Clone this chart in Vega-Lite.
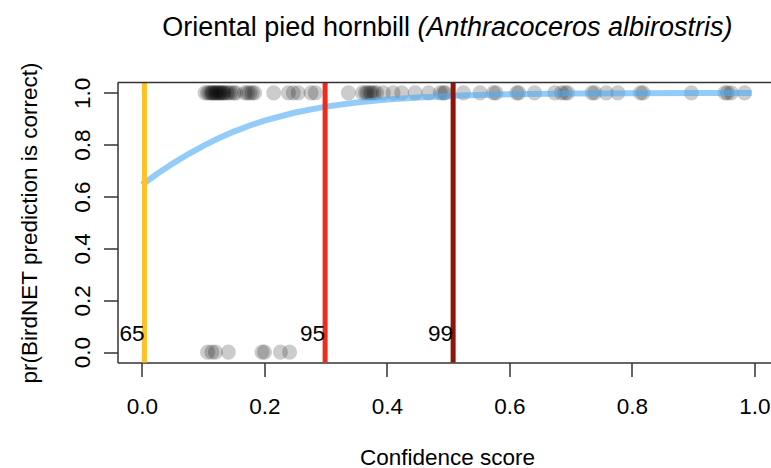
{
  "$schema": "https://vega.github.io/schema/vega-lite/v6.json",
  "width": 653.5,
  "height": 280,
  "autosize": {"type": "none"},
  "padding": {"left": 117.5, "top": 82.5, "right": 0, "bottom": 105.5},
  "background": "white",
  "config": {"view": {"stroke": null}, "font": "Liberation Sans"},
  "datasets": {
    "pts": [
      {"score": 0.103, "correct": 1}, {"score": 0.107, "correct": 1}, {"score": 0.110, "correct": 1}, {"score": 0.113, "correct": 1},
      {"score": 0.116, "correct": 1}, {"score": 0.119, "correct": 1}, {"score": 0.122, "correct": 1}, {"score": 0.125, "correct": 1},
      {"score": 0.128, "correct": 1}, {"score": 0.131, "correct": 1}, {"score": 0.134, "correct": 1}, {"score": 0.138, "correct": 1},
      {"score": 0.141, "correct": 1}, {"score": 0.145, "correct": 1}, {"score": 0.150, "correct": 1}, {"score": 0.153, "correct": 1},
      {"score": 0.115, "correct": 1}, {"score": 0.121, "correct": 1}, {"score": 0.127, "correct": 1}, {"score": 0.133, "correct": 1},
      {"score": 0.168, "correct": 1}, {"score": 0.172, "correct": 1}, {"score": 0.176, "correct": 1}, {"score": 0.180, "correct": 1},
      {"score": 0.184, "correct": 1}, {"score": 0.215, "correct": 1}, {"score": 0.239, "correct": 1}, {"score": 0.247, "correct": 1},
      {"score": 0.255, "correct": 1}, {"score": 0.276, "correct": 1}, {"score": 0.283, "correct": 1}, {"score": 0.337, "correct": 1},
      {"score": 0.360, "correct": 1}, {"score": 0.365, "correct": 1}, {"score": 0.368, "correct": 1}, {"score": 0.372, "correct": 1},
      {"score": 0.375, "correct": 1}, {"score": 0.379, "correct": 1}, {"score": 0.383, "correct": 1}, {"score": 0.394, "correct": 1},
      {"score": 0.410, "correct": 1}, {"score": 0.424, "correct": 1}, {"score": 0.446, "correct": 1}, {"score": 0.468, "correct": 1},
      {"score": 0.487, "correct": 1}, {"score": 0.492, "correct": 1}, {"score": 0.495, "correct": 1}, {"score": 0.525, "correct": 1},
      {"score": 0.552, "correct": 1}, {"score": 0.574, "correct": 1}, {"score": 0.578, "correct": 1}, {"score": 0.612, "correct": 1},
      {"score": 0.615, "correct": 1}, {"score": 0.641, "correct": 1}, {"score": 0.674, "correct": 1}, {"score": 0.685, "correct": 1},
      {"score": 0.691, "correct": 1}, {"score": 0.695, "correct": 1}, {"score": 0.735, "correct": 1}, {"score": 0.739, "correct": 1},
      {"score": 0.758, "correct": 1}, {"score": 0.777, "correct": 1}, {"score": 0.814, "correct": 1}, {"score": 0.818, "correct": 1},
      {"score": 0.897, "correct": 1}, {"score": 0.952, "correct": 1}, {"score": 0.956, "correct": 1}, {"score": 0.962, "correct": 1},
      {"score": 0.984, "correct": 1},
      {"score": 0.107, "correct": 0}, {"score": 0.114, "correct": 0}, {"score": 0.120, "correct": 0}, {"score": 0.141, "correct": 0},
      {"score": 0.196, "correct": 0}, {"score": 0.200, "correct": 0}, {"score": 0.226, "correct": 0}, {"score": 0.241, "correct": 0}
    ],
    "fit": [
      {"score": 0.0, "p": 0.6457}, {"score": 0.025, "p": 0.6879}, {"score": 0.05, "p": 0.7271}, {"score": 0.075, "p": 0.7631},
      {"score": 0.1, "p": 0.7958}, {"score": 0.125, "p": 0.8249}, {"score": 0.15, "p": 0.8507}, {"score": 0.175, "p": 0.8733},
      {"score": 0.2, "p": 0.8929}, {"score": 0.25, "p": 0.9241}, {"score": 0.3, "p": 0.9469}, {"score": 0.35, "p": 0.9630},
      {"score": 0.4, "p": 0.9744}, {"score": 0.45, "p": 0.9823}, {"score": 0.5, "p": 0.9879}, {"score": 0.55, "p": 0.9917},
      {"score": 0.6, "p": 0.9943}, {"score": 0.7, "p": 0.9973}, {"score": 0.8, "p": 0.9988}, {"score": 0.9, "p": 0.9994},
      {"score": 0.995, "p": 0.9997}
    ],
    "thr": [
      {"score": 0.004, "label": "65"},
      {"score": 0.299, "label": "95"},
      {"score": 0.508, "label": "99"}
    ]
  },
  "layer": [
    {
      "data": {"name": "pts"},
      "mark": {"type": "circle", "size": 227, "color": "#000000", "opacity": 0.2, "strokeWidth": 0},
      "encoding": {
        "x": {
          "field": "score", "type": "quantitative",
          "scale": {"domain": [-0.04, 1.027], "nice": false, "zero": false},
          "axis": {
            "title": "Confidence score", "values": [0, 0.2, 0.4, 0.6, 0.8, 1.0], "format": ".1f",
            "grid": false, "tickSize": 14, "tickWidth": 1.5, "tickColor": "#333333",
            "domainColor": "#333333", "domainWidth": 1.5,
            "labelFontSize": 22.5, "labelColor": "#000000", "labelPadding": 37, "labelBaseline": "alphabetic",
            "labelFlush": false, "labelOverlap": false,
            "titleFontSize": 22.5, "titleFontWeight": "normal", "titleColor": "#000000",
            "titleY": 101.5, "titleX": 329.5, "titleBaseline": "alphabetic"
          }
        },
        "y": {
          "field": "correct", "type": "quantitative",
          "scale": {"domain": [-0.04, 1.04], "nice": false, "zero": false},
          "axis": {
            "title": "pr(BirdNET prediction is correct)", "values": [0, 0.2, 0.4, 0.6, 0.8, 1.0], "format": ".1f",
            "grid": false, "tickSize": 14, "tickWidth": 1.5, "tickColor": "#333333",
            "domainColor": "#333333", "domainWidth": 1.5,
            "labelFontSize": 22.5, "labelColor": "#000000", "labelPadding": 14, "labelAngle": -90,
            "labelAlign": "center", "labelBaseline": "alphabetic", "labelFlush": false, "labelOverlap": false,
            "titleFontSize": 22.5, "titleFontWeight": "normal", "titleColor": "#000000",
            "titleAngle": -90, "titleX": -81, "titleY": 140, "titleAlign": "center", "titleBaseline": "alphabetic"
          }
        }
      }
    },
    {
      "data": {"name": "fit"},
      "mark": {"type": "line", "color": "#4DAAF5", "opacity": 0.6, "strokeWidth": 6, "strokeCap": "butt"},
      "encoding": {
        "x": {"field": "score", "type": "quantitative"},
        "y": {"field": "p", "type": "quantitative"}
      }
    },
    {
      "data": {"name": "thr"},
      "mark": {"type": "rule", "strokeWidth": 5},
      "encoding": {
        "x": {"field": "score", "type": "quantitative"},
        "color": {
          "field": "label", "type": "nominal", "legend": null,
          "scale": {"domain": ["65", "95", "99"], "range": ["#FFC126", "#EE2C1C", "#8E1507"]}
        }
      }
    },
    {
      "data": {"name": "thr"},
      "mark": {"type": "text", "align": "right", "baseline": "alphabetic", "fontSize": 22.5, "color": "#000000"},
      "encoding": {
        "x": {"field": "score", "type": "quantitative"},
        "y": {"datum": 0.044},
        "text": {"field": "label"}
      }
    },
    {
      "data": {"values": [{}]},
      "mark": {"type": "rule", "color": "#333333", "strokeWidth": 1.5},
      "encoding": {"y": {"datum": 1.04}}
    },
    {
      "data": {"values": [{"t": "Oriental pied hornbill"}]},
      "mark": {"type": "text", "align": "right", "baseline": "alphabetic", "fontSize": 27, "color": "#000000", "dx": -3.75},
      "encoding": {
        "x": {"datum": 0.4436},
        "y": {"datum": 1.2193},
        "text": {"field": "t"}
      }
    },
    {
      "data": {"values": [{"t": "(Anthracoceros albirostris)"}]},
      "mark": {"type": "text", "align": "left", "baseline": "alphabetic", "fontSize": 27, "fontStyle": "italic", "color": "#000000", "dx": 3.75},
      "encoding": {
        "x": {"datum": 0.4436},
        "y": {"datum": 1.2193},
        "text": {"field": "t"}
      }
    }
  ]
}
